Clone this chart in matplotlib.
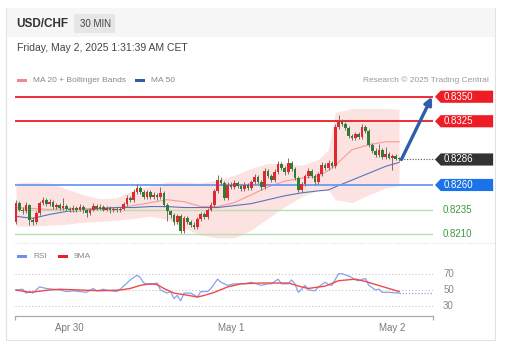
import numpy as np
import matplotlib.pyplot as plt
from matplotlib.patches import Polygon, Rectangle

plt.rcParams['font.family'] = ['Liberation Sans', 'DejaVu Sans']

# candles, 30 min, Apr 29 16:00 -> May 2 01:00
first_open = 0.8222
closes = [
    0.8242, 0.8235, 0.8233, 0.8240, 0.8224, 0.8222, 0.8231, 0.8242, 0.8245, 0.8241,
    0.8243, 0.8238, 0.8240, 0.8237, 0.8239, 0.8236, 0.8234, 0.8237, 0.8234, 0.8238,
    0.8234, 0.8231, 0.8235, 0.8239, 0.8236, 0.8238, 0.8235, 0.8237, 0.8234, 0.8236,
    0.8234, 0.8236, 0.8241, 0.8247, 0.8245, 0.8253, 0.8257, 0.8253, 0.8248, 0.8253,
    0.8248, 0.8250, 0.8248, 0.8252, 0.8240, 0.8233, 0.8229, 0.8222, 0.8228, 0.8213,
    0.8226, 0.8222, 0.8219, 0.8217, 0.8225, 0.8230, 0.8227, 0.8235, 0.8240, 0.8254,
    0.8265, 0.8262, 0.8247, 0.8260, 0.8258, 0.8262, 0.8259, 0.8256, 0.8260, 0.8257,
    0.8263, 0.8268, 0.8263, 0.8258, 0.8274, 0.8269, 0.8265, 0.8273, 0.8281, 0.8277,
    0.8273, 0.8282, 0.8276, 0.8267, 0.8255, 0.8261, 0.8269, 0.8274, 0.8269, 0.8263,
    0.8271, 0.8280, 0.8277, 0.8282, 0.8279, 0.8319, 0.8325, 0.8322, 0.8318, 0.8310,
    0.8308, 0.8312, 0.8309, 0.8319, 0.8315, 0.8301, 0.8295, 0.8291, 0.8296, 0.8289,
    0.8292, 0.8288, 0.8290, 0.8287, 0.8286]
highs = [
    0.8245, 0.8244, 0.8238, 0.8243, 0.8241, 0.8227, 0.8233, 0.8244, 0.8248, 0.8247,
    0.8246, 0.8245, 0.8242, 0.8242, 0.8247, 0.8241, 0.8238, 0.8240, 0.8239, 0.8241,
    0.8240, 0.8236, 0.8237, 0.8242, 0.8241, 0.8241, 0.8240, 0.8239, 0.8239, 0.8238,
    0.8238, 0.8238, 0.8243, 0.8250, 0.8249, 0.8256, 0.8261, 0.8259, 0.8255, 0.8255,
    0.8255, 0.8253, 0.8252, 0.8258, 0.8254, 0.8242, 0.8235, 0.8231, 0.8230, 0.8230,
    0.8228, 0.8228, 0.8224, 0.8222, 0.8227, 0.8232, 0.8232, 0.8237, 0.8243, 0.8256,
    0.8270, 0.8268, 0.8264, 0.8263, 0.8263, 0.8265, 0.8264, 0.8261, 0.8263, 0.8262,
    0.8265, 0.8271, 0.8270, 0.8265, 0.8277, 0.8276, 0.8271, 0.8276, 0.8284, 0.8283,
    0.8279, 0.8288, 0.8284, 0.8278, 0.8269, 0.8263, 0.8271, 0.8277, 0.8276, 0.8271,
    0.8273, 0.8283, 0.8282, 0.8285, 0.8284, 0.8322, 0.8331, 0.8327, 0.8324, 0.8320,
    0.8312, 0.8314, 0.8314, 0.8322, 0.8321, 0.8317, 0.8303, 0.8298, 0.8302, 0.8298,
    0.8299, 0.8294, 0.8292, 0.8292, 0.8289]
lows = [
    0.8220, 0.8233, 0.8230, 0.8231, 0.8219, 0.8219, 0.8220, 0.8229, 0.8240, 0.8239,
    0.8239, 0.8236, 0.8236, 0.8235, 0.8235, 0.8233, 0.8232, 0.8232, 0.8232, 0.8233,
    0.8231, 0.8227, 0.8229, 0.8233, 0.8234, 0.8234, 0.8233, 0.8233, 0.8231, 0.8232,
    0.8232, 0.8232, 0.8234, 0.8239, 0.8243, 0.8243, 0.8251, 0.8251, 0.8246, 0.8246,
    0.8246, 0.8246, 0.8245, 0.8246, 0.8238, 0.8223, 0.8226, 0.8219, 0.8220, 0.8211,
    0.8211, 0.8220, 0.8217, 0.8215, 0.8215, 0.8223, 0.8225, 0.8225, 0.8233, 0.8238,
    0.8252, 0.8260, 0.8245, 0.8245, 0.8256, 0.8256, 0.8257, 0.8254, 0.8254, 0.8255,
    0.8255, 0.8261, 0.8261, 0.8255, 0.8256, 0.8267, 0.8263, 0.8263, 0.8271, 0.8275,
    0.8270, 0.8271, 0.8274, 0.8265, 0.8253, 0.8253, 0.8259, 0.8267, 0.8267, 0.8260,
    0.8261, 0.8269, 0.8275, 0.8275, 0.8277, 0.8277, 0.8317, 0.8320, 0.8316, 0.8308,
    0.8306, 0.8306, 0.8307, 0.8307, 0.8313, 0.8299, 0.8293, 0.8289, 0.8289, 0.8287,
    0.8287, 0.8286, 0.8275, 0.8285, 0.8284]

# indicators (read at sampled candle positions)
ind_idx = [0, 5, 10, 15, 20, 25, 30, 35, 40, 45, 50, 55, 60, 65, 70, 75, 80, 85, 90, 93, 95, 100, 105, 110, 114]
ma20 = [0.8237, 0.8236, 0.8235, 0.8236, 0.8236, 0.8236, 0.8237, 0.8239, 0.8242, 0.8245, 0.8243, 0.8238, 0.8238,
        0.8242, 0.8250, 0.8258, 0.8264, 0.8267, 0.8269, 0.8275, 0.8280, 0.8296, 0.8301, 0.8304, 0.8304]
bb_up = [0.8262, 0.8263, 0.8262, 0.8256, 0.8250, 0.8246, 0.8247, 0.8255, 0.8259, 0.8263, 0.8263, 0.8262, 0.8265,
         0.8270, 0.8277, 0.8282, 0.8282, 0.8280, 0.8286, 0.8296, 0.8334, 0.8338, 0.8338, 0.8338, 0.8337]
bb_lo = [0.8218, 0.8218, 0.8219, 0.8220, 0.8222, 0.8223, 0.8224, 0.8226, 0.8228, 0.8225, 0.8216, 0.8209, 0.8206,
         0.8206, 0.8214, 0.8226, 0.8238, 0.8248, 0.8255, 0.8255, 0.8245, 0.8242, 0.8250, 0.8257, 0.8259]
ma50 = [0.8228, 0.8226, 0.8230, 0.8233, 0.8234, 0.8236, 0.8237, 0.8237, 0.8238, 0.8238, 0.8237, 0.8237, 0.8237,
        0.8239, 0.8241, 0.8245, 0.8249, 0.8252, 0.8254, 0.8255, 0.8258, 0.8265, 0.8272, 0.8279, 0.8283]

rsi_idx = [0, 2, 3, 4, 5, 6, 7, 9, 11, 13, 15, 17, 19, 21, 23, 24, 26, 28, 30, 31, 33, 34, 36, 37, 38, 40, 42, 43,
           45, 46, 47, 48, 49, 50, 52, 54, 55, 57, 58, 60, 61, 63, 65, 68, 70, 73, 75, 76, 78, 79, 81, 82, 83, 84,
           85, 86, 87, 89, 90, 92, 93, 94, 96, 97, 99, 100, 101, 102, 104, 105, 107, 108, 109, 111, 114]
rsi = [50, 51, 46, 48, 46, 50, 54, 52, 51, 50, 48, 49, 48, 47, 52, 49, 51, 49, 48, 51, 59, 63, 69, 66, 59, 57, 59, 50,
       46, 48, 39, 43, 36, 46, 46, 41, 48, 48, 52, 64, 60, 56, 58, 58, 60, 56, 58, 58, 64, 58, 58, 63, 58, 47,
       51, 56, 50, 49, 54, 60, 57, 56, 71, 71, 68, 66, 63, 62, 65, 56, 50, 51, 47, 47, 46]
ma9_idx = [0, 4, 10, 13, 19, 25, 31, 34, 37, 40, 42, 44, 47, 50, 54, 56, 59, 63, 67, 73, 81, 85, 87, 92, 96, 101, 104, 114]
ma9 = [50, 47, 50, 51, 50, 49, 50, 52, 56, 58, 57, 52, 46, 44, 41, 43, 47, 54, 58, 59, 59, 54, 52, 55, 62, 64, 61, 48]

levels_res = [0.8350, 0.8325]
level_pivot = 0.8260
levels_sup = [0.8235, 0.8210]
rsi_levels = [70, 50, 30]
date_idx = [16, 64, 112]
date_labels = ['Apr 30', 'May 1', 'May 2']

W, H = 511, 351
fig = plt.figure(figsize=(W / 100, H / 100), dpi=100)

def fx(x):
    return x / W

def fy(y):
    return 1 - y / H

# card + header
fig.add_artist(Rectangle((fx(6), fy(340)), fx(489), 332 / H, transform=fig.transFigure,
                         fc='white', ec='#e2e2e2', lw=0.8, zorder=0))
fig.add_artist(Rectangle((fx(6.5), fy(37)), fx(488), 29 / H, transform=fig.transFigure,
                         fc='#f6f6f6', ec='none', zorder=0))
fig.add_artist(Rectangle((fx(74), fy(33)), fx(41), 19 / H, transform=fig.transFigure,
                         fc='#e6e6e6', ec='none', zorder=1))
fig.text(fx(16), fy(24), 'USD/CHF', fontsize=8.5, fontweight='bold', color='#333333', va='center')
fig.text(fx(95), fy(24), '30 MIN', fontsize=7, color='#444444', va='center', ha='center')
fig.text(fx(17), fy(48), 'Friday, May 2, 2025 1:31:39 AM CET', fontsize=7.5, color='#444444', va='center')

# legends
fig.add_artist(Rectangle((fx(17), fy(81.5)), fx(10), 3 / H, transform=fig.transFigure, fc='#f08a8a', ec='none'))
fig.text(fx(33), fy(80), 'MA 20 + Bollinger Bands', fontsize=6, color='#888888', va='center')
fig.add_artist(Rectangle((fx(135), fy(81.5)), fx(10), 3 / H, transform=fig.transFigure, fc='#2f5fa8', ec='none'))
fig.text(fx(151), fy(80), 'MA 50', fontsize=6, color='#888888', va='center')
fig.text(fx(489), fy(80), 'Research \u00a9 2025 Trading Central', fontsize=6, color='#999999', va='center', ha='right')

fig.add_artist(Rectangle((fx(17), fy(257.5)), fx(10), 3 / H, transform=fig.transFigure, fc='#6f8fe8', ec='none'))
fig.text(fx(33), fy(256), 'RSI', fontsize=6, color='#888888', va='center')
fig.add_artist(Rectangle((fx(58), fy(257.5)), fx(10), 3 / H, transform=fig.transFigure, fc='#ee1c24', ec='none'))
fig.text(fx(74), fy(256), '9MA', fontsize=6, color='#888888', va='center')

# separator
fig.add_artist(plt.Line2D([fx(15), fx(494)], [fy(242.5), fy(242.5)], transform=fig.transFigure,
                          color='#dddddd', lw=0.8, ls=(0, (1, 1.5))))

# price panel
ax = fig.add_axes([fx(15), fy(240), (433 - 15) / W, (240 - 88) / H])
ax.set_xlim(-0.3, 124.1)
ax.set_ylim(0.82039, 0.83589)
ax.axis('off')

n = len(closes)
x = np.arange(n)
c = np.array(closes)
o = np.r_[first_open, c[:-1]]
h = np.array(highs)
l = np.array(lows)

ax.fill_between(ind_idx, bb_lo, bb_up, color='#fde2e2', lw=0, zorder=1)
ax.plot(ind_idx, ma20, color='#f59a9a', lw=0.8, zorder=2)
ax.plot(ind_idx, ma50, color='#5874b8', lw=0.8, zorder=2)

for lv in levels_res:
    ax.axhline(lv, color='#ee1c24', lw=1.3, zorder=3)
ax.axhline(level_pivot, color='#6c98f0', lw=1.3, zorder=3)
for lv in levels_sup:
    ax.axhline(lv, color='#b8dfb3', lw=1.0, zorder=3)

up = c >= o
cols = np.where(up, '#e0282e', '#2e7d32')
ax.vlines(x, l, h, color='#707070', lw=0.7, zorder=4)
body = np.maximum(np.abs(c - o), 0.00012)
ax.bar(x, body, bottom=np.minimum(o, c), width=0.8, color=cols, lw=0, zorder=5)

# last price dotted + arrow
ax.plot([n - 0.5, 124.7], [c[-1], c[-1]], color='#555555', lw=0.8, ls=(0, (1, 1.5)), clip_on=False, zorder=4)
ax.annotate('', xy=(123.8, levels_res[0]), xytext=(n - 0.3, c[-1]),
            arrowprops=dict(arrowstyle='-|>', color='#2f5fa8', lw=2.4, mutation_scale=11,
                            shrinkA=0, shrinkB=0), zorder=6, annotation_clip=False)

def tag(price, fc):
    dy = 0.00062
    pts = [(124.7, price), (126.4, price + dy), (142.0, price + dy), (142.0, price - dy), (126.4, price - dy)]
    ax.add_patch(Polygon(pts, closed=True, fc=fc, ec='none', clip_on=False, zorder=7))
    ax.text(127.4, price, f'{price:.4f}', color='white', fontsize=7, va='center', clip_on=False, zorder=8)

for lv in levels_res:
    tag(lv, '#ee1c24')
tag(c[-1], '#333333')
tag(level_pivot, '#1a73e8')
for lv in levels_sup:
    ax.text(127.1, lv, f'{lv:.4f}', color='#3a9a3a', fontsize=7, va='center', clip_on=False)

# rsi panel
ax2 = fig.add_axes([fx(15), fy(316), (433 - 15) / W, (316 - 262) / H])
ax2.set_xlim(-0.3, 124.1)
ax2.set_ylim(16.5, 86.1)
for s in ['top', 'left', 'right']:
    ax2.spines[s].set_visible(False)
ax2.spines['bottom'].set_color('#aaaaaa')
ax2.spines['bottom'].set_linewidth(0.9)
ax2.set_yticks([])
ax2.set_xticks(date_idx)
ax2.set_xticklabels(date_labels, fontsize=7, color='#777777')
ax2.set_xticks([-0.2, 124.0], minor=True)
ax2.tick_params(axis='x', which='major', length=0, pad=5)
ax2.tick_params(axis='x', which='minor', length=3, color='#aaaaaa', width=0.9)

for lv in rsi_levels:
    ax2.axhline(lv, color='#c4c4c4', lw=0.8, ls=(0, (1, 2)))
    ax2.text(127.1, lv, str(lv), color='#888888', fontsize=7, va='center', clip_on=False)
ax2.plot(rsi_idx, rsi, color='#86a2f0', lw=0.9)
ax2.plot(ma9_idx, ma9, color='#f04848', lw=1.0)
ax2.plot([rsi_idx[-1], 124.0], [rsi[-1], rsi[-1]], color='#86a2f0', lw=0.9, ls=(0, (1, 1.5)))

fig.savefig('out.png', dpi=100)
